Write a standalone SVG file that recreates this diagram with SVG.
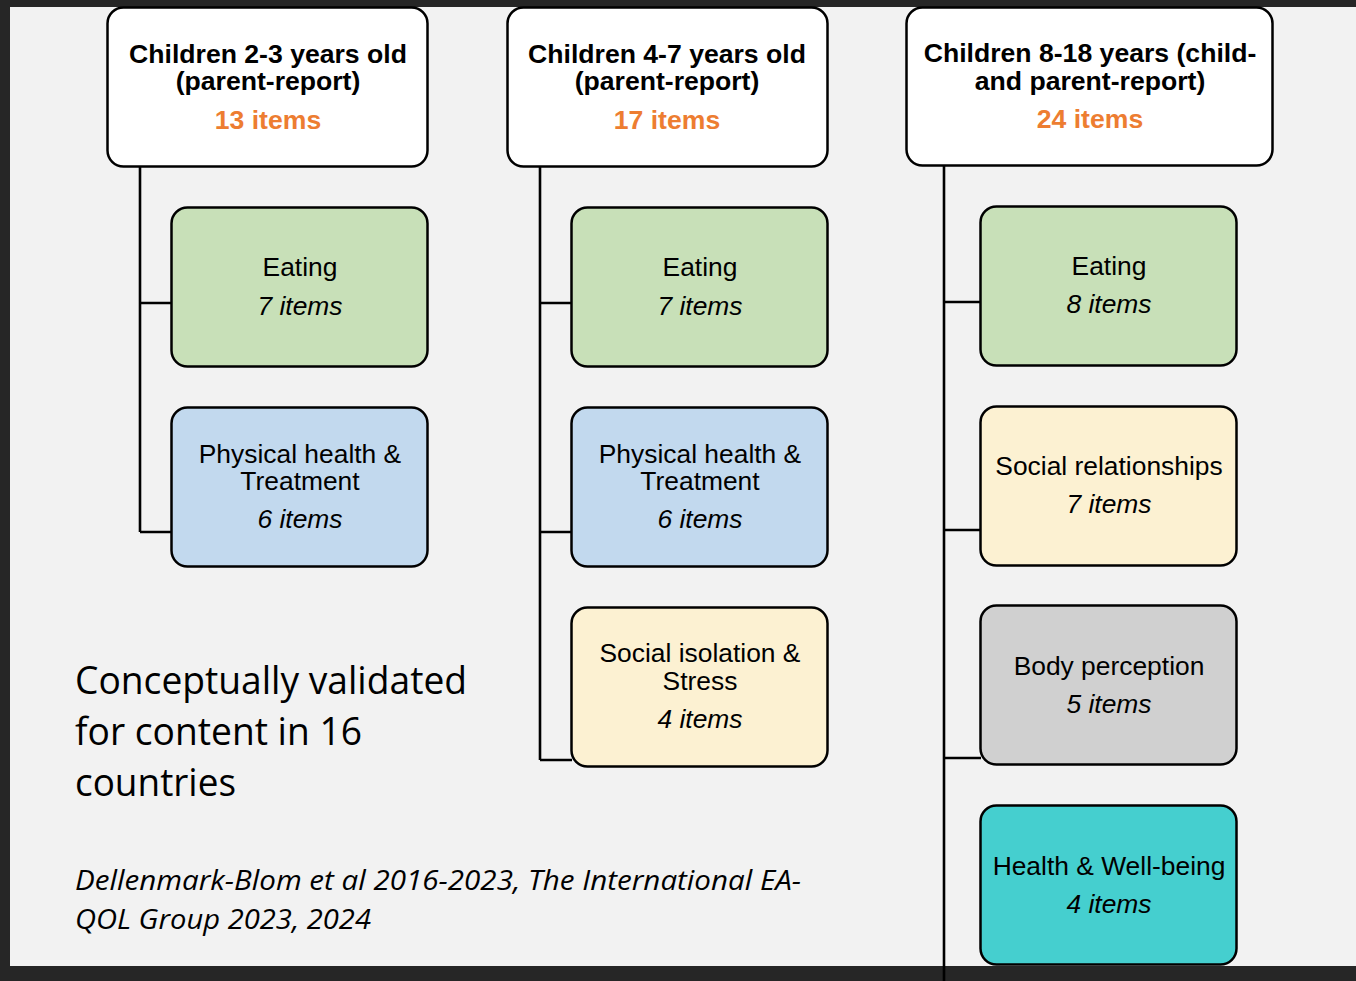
<svg xmlns="http://www.w3.org/2000/svg" width="1356" height="981" viewBox="0 0 1356 981">
  <style>
    .box { stroke: #000; stroke-width: 2.5; }
    .hdr { fill: #ffffff; }
    .green { fill: #c8e0b8; }
    .blue { fill: #c2d9ee; }
    .yellow { fill: #fcf1d2; }
    .grey { fill: #d0d0d0; }
    .teal { fill: #45cfcf; }
    .htxt { font-family: "Liberation Sans", Arial, sans-serif; font-size: 26.6px; font-weight: bold; fill: #000; text-anchor: middle; }
    .count { font-family: "Liberation Sans", Arial, sans-serif; font-size: 26.6px; font-weight: bold; fill: #ed7d31; text-anchor: middle; }
    .title { font-family: "Liberation Sans", Arial, sans-serif; font-size: 26.4px; fill: #000; text-anchor: middle; }
    .items { font-family: "Liberation Sans", Arial, sans-serif; font-size: 26.4px; font-style: italic; fill: #000; text-anchor: middle; }
    .note { font-family: "Open Sans", "Noto Sans", sans-serif; font-size: 38px; fill: #000; }
    .cite { font-family: "Open Sans", "Noto Sans", sans-serif; font-size: 27px; font-style: italic; fill: #000; }
    .conn { stroke: #000; stroke-width: 2.6; fill: none; }
  </style>

  <!-- page background and dark frame -->
  <rect x="0" y="0" width="1356" height="981" fill="#262626"/>
  <rect x="10" y="7" width="1346" height="959" fill="#f2f2f2"/>

  <!-- connectors -->
  <g id="connectors">
    <path class="conn" d="M140 167 V532 M140 303 H172 M140 532 H172"/>
    <path class="conn" d="M540 167 V760 M540 303 H572 M540 532 H572 M540 760 H572"/>
    <path class="conn" d="M944 166 V981 M944 302 H981 M944 530 H981 M944 758 H981"/>
  </g>

  <!-- column 1 -->
  <g id="hdr-2-3">
    <rect class="box hdr" x="107.5" y="7.5" width="320" height="159" rx="16"/>
    <text class="htxt" x="268" y="63">Children 2-3 years old</text>
    <text class="htxt" x="268" y="90">(parent-report)</text>
    <text class="count" x="268" y="129">13 items</text>
  </g>
  <g id="c1-eating">
    <rect class="box green" x="171.5" y="207.5" width="256" height="159" rx="16"/>
    <text class="title" x="300" y="276">Eating</text>
    <text class="items" x="300" y="315">7 items</text>
  </g>
  <g id="c1-physical">
    <rect class="box blue" x="171.5" y="407.5" width="256" height="159" rx="16"/>
    <text class="title" x="300" y="463">Physical health &amp;</text>
    <text class="title" x="300" y="490">Treatment</text>
    <text class="items" x="300" y="528">6 items</text>
  </g>

  <!-- column 2 -->
  <g id="hdr-4-7">
    <rect class="box hdr" x="507.5" y="7.5" width="320" height="159" rx="16"/>
    <text class="htxt" x="667" y="63">Children 4-7 years old</text>
    <text class="htxt" x="667" y="90">(parent-report)</text>
    <text class="count" x="667" y="129">17 items</text>
  </g>
  <g id="c2-eating">
    <rect class="box green" x="571.5" y="207.5" width="256" height="159" rx="16"/>
    <text class="title" x="700" y="276">Eating</text>
    <text class="items" x="700" y="315">7 items</text>
  </g>
  <g id="c2-physical">
    <rect class="box blue" x="571.5" y="407.5" width="256" height="159" rx="16"/>
    <text class="title" x="700" y="463">Physical health &amp;</text>
    <text class="title" x="700" y="490">Treatment</text>
    <text class="items" x="700" y="528">6 items</text>
  </g>
  <g id="c2-social">
    <rect class="box yellow" x="571.5" y="607.5" width="256" height="159" rx="16"/>
    <text class="title" x="700" y="662">Social isolation &amp;</text>
    <text class="title" x="700" y="690">Stress</text>
    <text class="items" x="700" y="728">4 items</text>
  </g>

  <!-- column 3 -->
  <g id="hdr-8-18">
    <rect class="box hdr" x="906.5" y="7.5" width="366" height="158" rx="16"/>
    <text class="htxt" x="1090" y="62">Children 8-18 years (child-</text>
    <text class="htxt" x="1090" y="90">and parent-report)</text>
    <text class="count" x="1090" y="128">24 items</text>
  </g>
  <g id="c3-eating">
    <rect class="box green" x="980.5" y="206.5" width="256" height="159" rx="16"/>
    <text class="title" x="1109" y="275">Eating</text>
    <text class="items" x="1109" y="313">8 items</text>
  </g>
  <g id="c3-social">
    <rect class="box yellow" x="980.5" y="406.5" width="256" height="159" rx="16"/>
    <text class="title" x="1109" y="475">Social relationships</text>
    <text class="items" x="1109" y="513">7 items</text>
  </g>
  <g id="c3-body">
    <rect class="box grey" x="980.5" y="605.5" width="256" height="159" rx="16"/>
    <text class="title" x="1109" y="675">Body perception</text>
    <text class="items" x="1109" y="713">5 items</text>
  </g>
  <g id="c3-health">
    <rect class="box teal" x="980.5" y="805.5" width="256" height="159" rx="16"/>
    <text class="title" x="1109" y="875">Health &amp; Well-being</text>
    <text class="items" x="1109" y="913">4 items</text>
  </g>

  <!-- notes -->
  <g id="notes">
    <text class="note" x="75" y="694" textLength="392" lengthAdjust="spacingAndGlyphs">Conceptually validated</text>
    <text class="note" x="75" y="745" textLength="287" lengthAdjust="spacingAndGlyphs">for content in 16</text>
    <text class="note" x="75" y="796" textLength="161" lengthAdjust="spacingAndGlyphs">countries</text>
    <text class="cite" x="75" y="890" textLength="726" lengthAdjust="spacingAndGlyphs">Dellenmark-Blom et al 2016-2023, The International EA-</text>
    <text class="cite" x="75" y="929" textLength="296" lengthAdjust="spacingAndGlyphs">QOL Group 2023, 2024</text>
  </g>
</svg>
